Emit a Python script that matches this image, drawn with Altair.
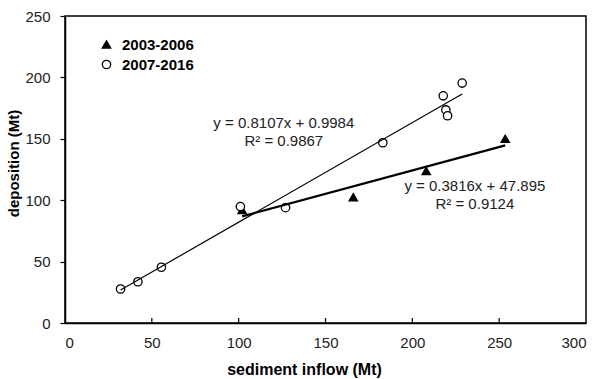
import altair as alt
import pandas as pd

# ---- data ----
series_a = "2003-2006"
a_x = [102, 166, 208, 253.5]
a_y = [92, 102.5, 123.8, 150]

series_b = "2007-2016"
b_x = [32, 42, 55.5, 101, 127, 183, 217.8, 219.3, 220.3, 228.7]
b_y = [27.7, 33.6, 45.4, 94.8, 93.9, 146.8, 185, 173.5, 168.8, 195.4]

series = [series_a, series_b]
slopes = [0.3816, 0.8107]
intercepts = [47.895, 0.9984]
eq_lines = [["y = 0.3816x + 47.895", "R² = 0.9124"],
            ["y = 0.8107x + 0.9984", "R² = 0.9867"]]

x_ticks = [0, 50, 100, 150, 200, 250, 300]
y_ticks = [0, 50, 100, 150, 200, 250]

W, H = 521, 307
FONT = "Liberation Sans"

pts = pd.DataFrame(
    {"x": a_x + b_x, "y": a_y + b_y,
     "series": [series_a] * len(a_x) + [series_b] * len(b_x)}
)

# trend lines from the printed coefficients over each series' data range
rows = []
for s, xs_, m, c in [(series_a, a_x, slopes[0], intercepts[0]),
                     (series_b, b_x, slopes[1], intercepts[1])]:
    for xv in (min(xs_), max(xs_)):
        rows.append({"x": xv, "y": m * xv + c, "series": s})
lines = pd.DataFrame(rows)

# annotation positions (data units)
ann = pd.DataFrame({
    "x": [236, 236, 126, 126],
    "y": [111.8, 96.7, 163, 148],
    "text": [eq_lines[0][0], eq_lines[0][1], eq_lines[1][0], eq_lines[1][1]],
})

xs = alt.Scale(domain=[0, 300], nice=False)
ys = alt.Scale(domain=[0, 250], nice=False)

x_axis = alt.Axis(values=x_ticks, ticks=False, labelPadding=12, labelFontSize=15,
                  labelFont=FONT, labelColor="#222", grid=False,
                  domainColor="black", domainWidth=1.5,
                  title="sediment inflow (Mt)", titleFont=FONT, titleFontSize=16,
                  titleFontWeight="bold", titleColor="black",
                  titleX=239, titleY=46, titleAlign="center", titleBaseline="middle")
y_axis = alt.Axis(values=y_ticks, tickSize=5, tickColor="black", tickWidth=1.2,
                  labelPadding=10, labelFontSize=15, labelFont=FONT, labelColor="#222",
                  grid=False, domainColor="black", domainWidth=1.5,
                  title="deposition (Mt)", titleFont=FONT, titleFontSize=15,
                  titleFontWeight="bold", titleColor="black",
                  titleAngle=270, titleX=-52, titleY=147,
                  titleAlign="center", titleBaseline="middle")

leg = dict(title=None, orient="none", legendX=34, legendY=21,
           labelFont=FONT, labelFontSize=15, labelFontWeight="bold",
           labelColor="black", symbolSize=70, symbolStrokeWidth=1.3,
           rowPadding=4, labelOffset=8)

points = alt.Chart(pts).mark_point(size=70, strokeWidth=1.3, opacity=1).encode(
    x=alt.X("x:Q", scale=xs, axis=x_axis),
    y=alt.Y("y:Q", scale=ys, axis=y_axis),
    shape=alt.Shape("series:N", scale=alt.Scale(domain=series, range=["triangle-up", "circle"]),
                    legend=alt.Legend(**leg)),
    fill=alt.Fill("series:N", scale=alt.Scale(domain=series, range=["black", "white"]),
                  legend=alt.Legend(**leg)),
    stroke=alt.Stroke("series:N", scale=alt.Scale(domain=series, range=["black", "black"]),
                      legend=alt.Legend(**leg)),
)

line_a = alt.Chart(lines).transform_filter(alt.datum.series == series_a).mark_line(
    color="black", strokeWidth=2.2).encode(x=alt.X("x:Q", scale=xs), y=alt.Y("y:Q", scale=ys))
line_b = alt.Chart(lines).transform_filter(alt.datum.series == series_b).mark_line(
    color="black", strokeWidth=1.2).encode(x=alt.X("x:Q", scale=xs), y=alt.Y("y:Q", scale=ys))

texts = alt.Chart(ann).mark_text(font=FONT, fontSize=15, color="#222", align="center",
                                 baseline="middle").encode(
    x=alt.X("x:Q", scale=xs), y=alt.Y("y:Q", scale=ys), text="text:N")

tick_df = pd.DataFrame({"x": x_ticks[1:-1]})
xticks = alt.Chart(tick_df).mark_rule(color="black", strokeWidth=1.2).encode(
    x=alt.X("x:Q", scale=xs), y=alt.value(H), y2=alt.value(H - 5))

chart = alt.layer(points, line_b, line_a, texts, xticks).properties(
    width=W, height=H,
    autosize=alt.AutoSizeParams(type="none"),
    padding={"left": 65, "top": 16, "right": 22, "bottom": 56},
    background="white",
).configure_view(stroke="black", strokeWidth=1.5)

chart.save("out.html", embed_options={"renderer": "svg", "actions": False})
